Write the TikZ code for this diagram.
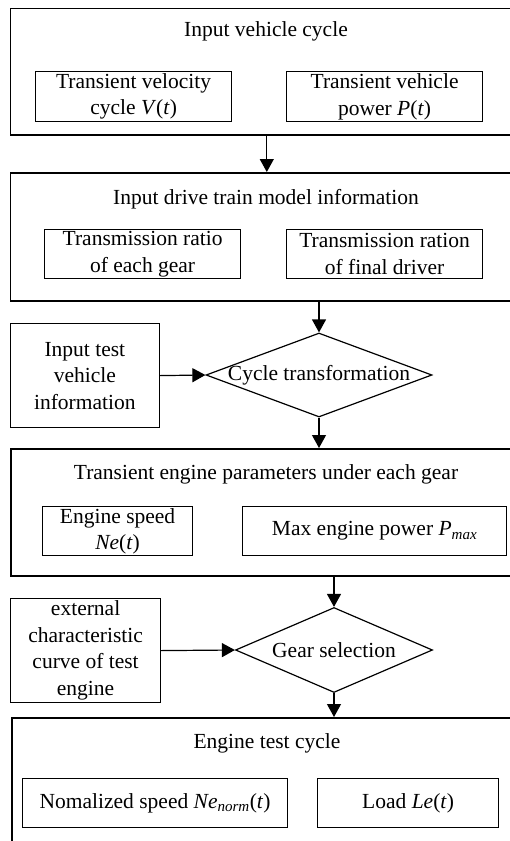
\documentclass[tikz,border=0pt]{standalone}
\usepackage{fontspec}
\setmainfont{Liberation Serif}
\usetikzlibrary{shapes.geometric,arrows.meta}
\begin{document}
\begin{tikzpicture}[x=1pt,y=-1pt,
  outer/.style={draw,line width=1.6pt,anchor=north west,inner sep=0pt},
  inbox/.style={draw,line width=1.2pt,anchor=north west,inner sep=0pt,align=center,font=\fontsize{21.5}{26.5}\selectfont},
  ttl/.style={font=\fontsize{21.5}{26}\selectfont,inner sep=0pt},
  dec/.style={draw,shape=diamond,line width=1.2pt,inner sep=0pt,font=\fontsize{21.5}{26}\selectfont},
  arr/.style={line width=1.2pt,-{Triangle[length=13pt,width=14pt]}}]
\useasboundingbox (0,0) rectangle (510,841);
\clip (0,0) rectangle (510,841);
% box 1
\node[outer,minimum width=513,minimum height=126.5] (b1) at (9.5,7.5) {};
\node[ttl] (t1) at (266,31) {Input vehicle cycle};
\node[inbox,minimum width=196,minimum height=50] (v1) at (35,71) {Transient velocity\\cycle \textit{V}(\textit{t})};
\node[inbox,minimum width=196,minimum height=50] (v2) at (286,71) {Transient vehicle\\power \textit{P}(\textit{t})};
% box 2
\node[outer,minimum width=513,minimum height=128] (b2) at (9.5,172) {};
\node[ttl] (t2) at (266,199) {Input drive train model information};
\node[inbox,minimum width=196,minimum height=49] (g1) at (44,229) {Transmission ratio\\of each gear};
\node[inbox,minimum width=196,minimum height=49] (g2) at (286,229) {Transmission ration\\of final driver};
% cycle transformation
\node[inbox,minimum width=149.5,minimum height=104] (in) at (9.5,323) {Input test\\vehicle\\information};
\node[dec,minimum width=226,minimum height=84] (d1) at (319,375) {\makebox[0pt]{Cycle transformation}};
% box 3
\node[outer,minimum width=512,minimum height=127] (b3) at (10,448) {};
\node[ttl] (t3) at (266,474) {Transient engine parameters under each gear};
\node[inbox,minimum width=150,minimum height=49] (e1) at (42,506) {Engine speed\\\textit{Ne}(\textit{t})};
\node[inbox,minimum width=264,minimum height=49] (e2) at (242,506) {Max engine power \textit{P}\textsubscript{\textit{max}}};
% gear selection
\node[inbox,minimum width=150,minimum height=104] (ext) at (10,598) {external\\characteristic\\curve of test\\engine};
\node[dec,minimum width=197,minimum height=85] (d2) at (334,650) {\makebox[0pt]{Gear selection}};
% box 4
\node[outer,minimum width=511,minimum height=150] (b4) at (11,717) {};
\node[ttl] (t4) at (267,743) {Engine test cycle};
\node[inbox,minimum width=265,minimum height=49] (n1) at (22,778) {Nomalized speed \textit{Ne}\textsubscript{\textit{norm}}(\textit{t})};
\node[inbox,minimum width=181,minimum height=49] (n2) at (317,778) {Load \textit{Le}(\textit{t})};
% connectors
\draw[arr] (b1.south) -- (b2.north);
\draw[arr] (b2.south -| d1.north) -- (d1.north);
\draw[arr] (in.east) -- (d1.west);
\draw[arr] (d1.south) -- (d1.south |- b3.north);
\draw[arr] (b3.south -| d2.north) -- (d2.north);
\draw[arr] (ext.east) -- (d2.west);
\draw[arr] (d2.south) -- (d2.south |- b4.north);
\end{tikzpicture}
\end{document}
